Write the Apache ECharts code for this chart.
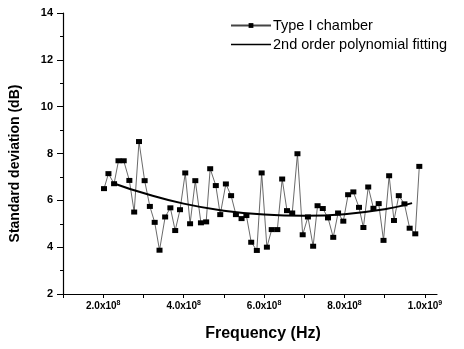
<!DOCTYPE html>
<html>
<head>
<meta charset="utf-8">
<script src="https://cdn.jsdelivr.net/npm/echarts@6/dist/echarts.min.js"></script>
<style>
html,body{margin:0;padding:0;background:#fff;}
#chart{width:464px;height:349px;}
</style>
</head>
<body>
<div id="chart"></div>
<script>
// Frequency in MHz
var freqMHz = [202,213,227,238,251,265,277,289,303,316,328,340,354,367,379,391,404,416,429,443,
  456,466,480,491,505,518,530,544,556,568,582,594,607,619,633,645,657,670,683,696,
  709,722,733,746,759,772,784,797,809,822,836,847,859,872,885,897,911,923,935,949,
  962,976,986];
// Standard deviation (dB)
var stdDev = [6.50,7.14,6.71,7.69,7.69,6.85,5.50,8.51,6.84,5.74,5.06,3.87,5.29,5.68,4.71,5.60,7.17,5.00,6.84,5.04,
  5.08,7.35,6.63,5.39,6.70,6.20,5.39,5.22,5.35,4.21,3.86,7.17,4.00,4.75,4.75,6.91,5.56,5.46,7.99,4.53,
  5.29,4.04,5.77,5.65,5.25,4.42,5.46,5.11,6.24,6.36,5.70,4.84,6.57,5.66,5.86,4.29,7.05,5.14,6.20,5.85,
  4.81,4.57,7.45];
// 2nd order polynomial fit curve
var fitMHz = [227,300,400,500,600,700,800,900,968];
var fitVal = [6.72,6.31,5.86,5.56,5.39,5.34,5.41,5.62,5.88];
// tick labels
var xTickValues = [200,400,600,800,1000];
var xTickMantissa = ['2.0x10','4.0x10','6.0x10','8.0x10','1.0x10'];
var xTickExp = ['8','8','8','8','9'];
var xMinorTicks = [100,200,300,400,500,600,700,800,900,1000];

var dataPts = freqMHz.map(function(f,i){return [f,stdDev[i]];});
var fitPts = fitMHz.map(function(f,i){return [f,fitVal[i]];});

var chart = echarts.init(document.getElementById('chart'));
var font = 'Liberation Sans, Arial, sans-serif';
chart.setOption({
  animation:false,
  backgroundColor:'#fff',
  textStyle:{fontFamily:font,color:'#000'},
  grid:{left:61,right:27,top:13,bottom:55,containLabel:false},
  legend:{
    orient:'vertical',left:225,top:13,itemWidth:40,itemHeight:6,itemGap:4,
    textStyle:{fontFamily:font,fontSize:14.5,color:'#000',padding:[0,0,0,-3]},
    data:[
      {name:'Type I chamber'},
      {name:'2nd order polynomial fitting',itemStyle:{opacity:0},lineStyle:{color:'#000',width:1.5}}
    ]
  },
  xAxis:{
    type:'value',min:100,max:1030,
    name:'Frequency (Hz)',nameLocation:'middle',nameGap:32,
    nameTextStyle:{fontFamily:font,fontSize:16,fontWeight:'bold',color:'#000',padding:[0,0,0,26]},
    axisLine:{show:true,onZero:false,lineStyle:{color:'#000',width:1.2}},
    axisTick:{show:true,inside:false,length:4,customValues:xMinorTicks,lineStyle:{color:'#000'}},
    axisLabel:{
      customValues:xTickValues,margin:6,color:'#000',fontFamily:font,fontSize:10,fontWeight:'bold',
      formatter:function(v){
        var i = xTickValues.indexOf(v);
        if(i<0) return '';
        return xTickMantissa[i]+'{sup|'+xTickExp[i]+'}';
      },
      rich:{sup:{fontSize:7,fontWeight:'bold',verticalAlign:'top',padding:[0,0,5,0],color:'#000'}}
    },
    splitLine:{show:false}
  },
  yAxis:{
    type:'value',min:2,max:14,interval:2,
    name:'Standard deviation (dB)',nameLocation:'middle',nameGap:41,
    nameTextStyle:{fontFamily:font,fontSize:14,fontWeight:'bold',color:'#000',padding:[0,20,0,0]},
    axisLine:{show:true,lineStyle:{color:'#000',width:1.2}},
    axisTick:{show:true,inside:false,length:6,lineStyle:{color:'#000'}},
    minorTick:{show:true,splitNumber:2,length:3,lineStyle:{color:'#000'}},
    axisLabel:{margin:10,color:'#000',fontFamily:font,fontSize:11,fontWeight:'bold'},
    splitLine:{show:false}
  },
  series:[
    {
      name:'Type I chamber',type:'line',data:dataPts,
      symbol:'rect',symbolSize:[6,5],showAllSymbol:true,
      lineStyle:{color:'#444',width:0.8},
      itemStyle:{color:'#000'}
    },
    {
      name:'2nd order polynomial fitting',type:'line',data:fitPts,smooth:true,
      symbol:'none',
      lineStyle:{color:'#000',width:2},
      itemStyle:{color:'#000'}
    }
  ]
});
</script>
</body>
</html>
